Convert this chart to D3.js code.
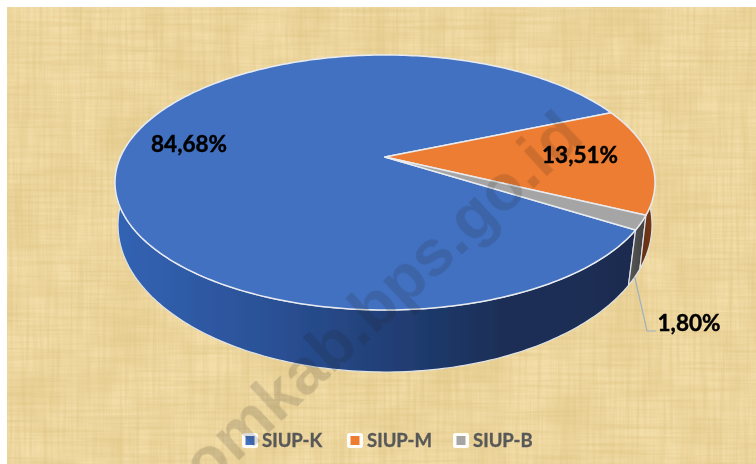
<!DOCTYPE html>
<html>
<head>
<meta charset="utf-8">
<script src="https://cdn.jsdelivr.net/npm/d3@7/dist/d3.min.js"></script>
<style>
  html, body { margin: 0; padding: 0; background: #fff; }
  svg { display: block; }
  text { font-family: Lato, "Open Sans", sans-serif; font-weight: 700; }
</style>
</head>
<body>
<svg id="chart" width="756" height="464"></svg>
<script>
// data
const categories = ["SIUP-K", "SIUP-M", "SIUP-B"];
const shares = [84.68, 13.51, 1.80];
const shareLabels = ["84,68%", "13,51%", "1,80%"];
const topColors = ["#4271c1", "#ed7d31", "#a5a5a5"];
const watermark = "omkab.bps.go.id";

const width = 756;
const height = 464;
const deg = Math.PI / 180;

const svg = d3.select("#chart");
const defs = svg.append("defs");

// 1] paper texture ---------------------------------//
function grain(id, freq, seed, alpha) {
  const f = defs.append("filter").attr("id", id)
    .attr("x", 0).attr("y", 0).attr("width", 1).attr("height", 1);
  f.append("feTurbulence")
    .attr("type", "fractalNoise")
    .attr("baseFrequency", freq)
    .attr("numOctaves", 3)
    .attr("seed", seed);
  f.append("feColorMatrix").attr("type", "matrix")
    .attr("values", `0 0 0 0 0.72  0 0 0 0 0.54  0 0 0 0 0.22  ${alpha} 0 0 0 ${-alpha * 0.38}`);
}
grain("grainH", "0.012 0.3", 4, 0.95);
grain("grainV", "0.3 0.012", 9, 0.95);
grain("grainBlotch", "0.02 0.02", 21, 0.95);

defs.append("filter").attr("id", "soft")
  .append("feGaussianBlur").attr("stdDeviation", 0.45);
defs.append("filter").attr("id", "softer")
  .append("feGaussianBlur").attr("stdDeviation", 0.6);

const panel = { x: 7, y: 7, width: width - 7, height: height - 7 };
const bg = svg.append("g");
bg.append("rect").attr("x", panel.x).attr("y", panel.y)
  .attr("width", panel.width).attr("height", panel.height).attr("fill", "#f3dda8");
["grainBlotch", "grainH", "grainV"].forEach(id => {
  bg.append("rect").attr("x", panel.x).attr("y", panel.y)
    .attr("width", panel.width).attr("height", panel.height)
    .attr("filter", `url(#${id})`);
});

// 2] scales, top ellipse and the lower rim -----------//
const xTop = d3.scaleLinear().domain([-1, 1]).range([115, 655]);
const yTop = d3.scaleLinear().domain([-1, 1]).range([55, 310]);
const xBase = d3.scaleLinear().domain([-1, 1]).range([118, 652]);
const yBase = d3.scaleLinear().domain([-1, 1]).range([78, 372]);
const color = d3.scaleOrdinal().domain(categories).range(topColors);

// perspective: pie centre sits above the middle of the ellipse
const tiltTop = -0.2;
const tiltBase = -0.157;
function project(u, v, tilt) {
  const w = 1 + tilt * v;
  return [u * Math.sqrt(1 - tilt * tilt) / w, (v + tilt) / w];
}
function rim(angle, xs, ys, tilt) {
  const p = project(Math.sin(angle), -Math.cos(angle), tilt);
  return [xs(p[0]), ys(p[1])];
}
function rimRun(a0, a1, xs, ys, tilt) {
  const n = Math.ceil(Math.abs(a1 - a0) / (1 * deg));
  return d3.range(n + 1).map(i => rim(a0 + (a1 - a0) * i / n, xs, ys, tilt));
}

const pie = d3.pie().sort(null).startAngle(122.2 * deg).endAngle((122.2 + 360) * deg);
const slices = pie(shares).map((s, i) => ({ ...s, name: categories[i], label: shareLabels[i] }));

const line = d3.line();

// 3] side gradients ----------------------------------//
function gradient(id, x1, x2, stops) {
  const g = defs.append("linearGradient").attr("id", id)
    .attr("gradientUnits", "userSpaceOnUse")
    .attr("x1", x1).attr("x2", x2).attr("y1", 0).attr("y2", 0);
  stops.forEach(s => g.append("stop").attr("offset", s[0]).attr("stop-color", s[1]));
}
gradient("side0", xTop(-1), xTop(0.9), [[0, "#3263b4"], [0.3, "#2b5196"], [0.55, "#213e74"], [0.75, "#1a2f57"], [1, "#1a2c50"]]);
gradient("side1", xTop(0.9), xTop(1), [[0, "#4d2410"], [1, "#7a3a14"]]);
gradient("side2", xTop(0.9), xTop(0.97), [[0, "#5a5a5a"], [1, "#3d3d3d"]]);

const chart = svg.append("g").attr("filter", "url(#soft)");

// 4] draw sides, then the top slices ----------------//
const sideOrder = [0, 2, 1];
chart.selectAll("path.side")
  .data(sideOrder.map(i => ({ slice: slices[i], i })))
  .join("path")
  .attr("class", "side")
  .attr("d", d => {
    const upper = rimRun(d.slice.startAngle, d.slice.endAngle, xTop, yTop, tiltTop);
    const lower = rimRun(d.slice.endAngle, d.slice.startAngle, xBase, yBase, tiltBase);
    return line(upper.concat(lower)) + "Z";
  })
  .attr("fill", d => `url(#side${d.i})`)
  .attr("stroke", "#dfe3e6")
  .attr("stroke-width", 1.2)
  .attr("stroke-linejoin", "round");

const apex = project(0, 0, tiltTop);
chart.selectAll("path.top")
  .data(slices)
  .join("path")
  .attr("class", "top")
  .attr("d", d => {
    const run = rimRun(d.startAngle, d.endAngle, xTop, yTop, tiltTop);
    return line([[xTop(apex[0]), yTop(apex[1])]].concat(run)) + "Z";
  })
  .attr("fill", d => color(d.name))
  .attr("stroke", "#e8ebef")
  .attr("stroke-width", 1.5)
  .attr("stroke-linejoin", "round");

// 5] leader line for the small slice ----------------//
const small = slices[2];
const leaderStart = rim((small.startAngle + small.endAngle) / 2, xBase, yBase, tiltBase);
chart.append("path")
  .attr("d", line([leaderStart, [647, 331], [656, 331]]))
  .attr("fill", "none")
  .attr("stroke", "#9db0c4")
  .attr("stroke-width", 1.2);

// 6] value labels ------------------------------------//
const labelSpots = [[189, 144], [580, 155], [689, 323]];
svg.selectAll("text.value")
  .data(slices)
  .join("text")
  .attr("class", "value")
  .attr("x", (d, i) => labelSpots[i][0])
  .attr("y", (d, i) => labelSpots[i][1])
  .attr("dy", "0.36em")
  .attr("text-anchor", "middle")
  .attr("font-size", 22.5)
  .attr("fill", "#000")
  .attr("stroke", "#000")
  .attr("stroke-width", 0.45)
  .attr("filter", "url(#soft)")
  .text(d => d.label);

// 7] legend ------------------------------------------//
const legendX = [242, 347, 453];
const legendY = 433;
const legend = svg.selectAll("g.legend")
  .data(categories)
  .join("g")
  .attr("class", "legend")
  .attr("transform", (d, i) => `translate(${legendX[i]},${legendY})`);
legend.append("rect")
  .attr("width", 16).attr("height", 15).attr("rx", 2.5)
  .attr("fill", "#fff").attr("opacity", 0.95);
legend.append("rect")
  .attr("x", 3.5).attr("y", 3).attr("width", 9).attr("height", 9)
  .attr("fill", d => color(d));
legend.append("text")
  .attr("x", 20).attr("y", 7.5).attr("dy", "0.36em")
  .attr("font-size", 18.5)
  .attr("fill", "#595959")
  .attr("stroke", "#595959")
  .attr("stroke-width", 0.35)
  .attr("filter", "url(#soft)")
  .text(d => d);

// 8] watermark ---------------------------------------//
svg.append("text")
  .attr("transform", "translate(586,140) rotate(-42.7)")
  .attr("text-anchor", "end")
  .attr("font-size", 65)
  .style("font-family", "'Liberation Sans', Arial, sans-serif")
  .attr("fill", "#1a1a1a")
  .attr("opacity", 0.15)
  .attr("filter", "url(#softer)")
  .text(watermark);
</script>
</body>
</html>
